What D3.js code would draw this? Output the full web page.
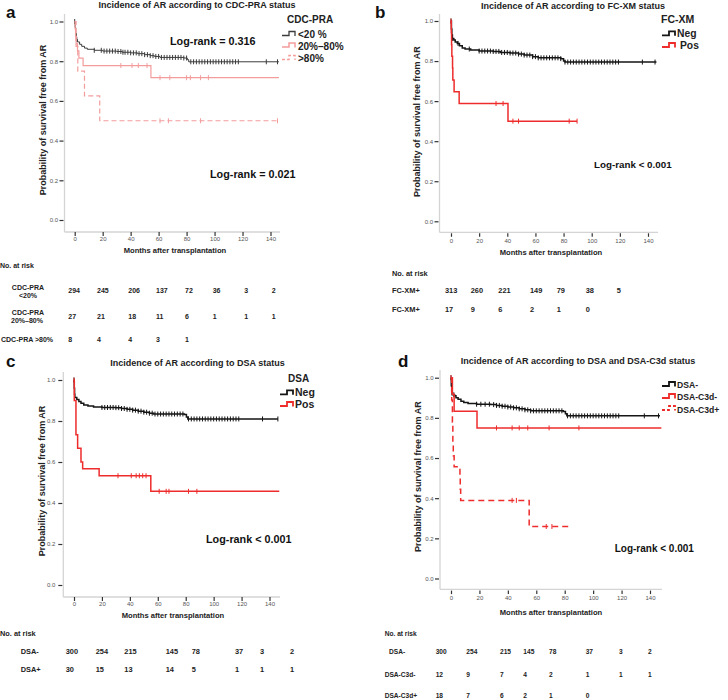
<!DOCTYPE html>
<html><head><meta charset="utf-8">
<script src="https://cdn.jsdelivr.net/npm/d3@7"></script>
<style>body{margin:0;background:#fff}svg{display:block;font-family:"Liberation Sans",Arial,Helvetica,sans-serif}</style>
</head><body><svg id="chart" width="728" height="700"></svg>
<script>
// ---------------- DATA ----------------
const monthTicks = [0, 20, 40, 60, 80, 100, 120, 140];
const probTicks = [0, 0.2, 0.4, 0.6, 0.8, 1.0];

// Panel a: CDC-PRA
const aLt20Steps = [[0,1],[0.3,0.97],[0.7,0.94],[1.2,0.91],[2,0.897],[3.5,0.885],[5,0.875],[7,0.866],[9,0.86],[14,0.855],[20,0.851],[30,0.849],[34,0.845],[40,0.842],[45,0.838],[50,0.833],[54,0.828],[57,0.824],[61,0.819],[78,0.816],[80.5,0.808],[81.5,0.797],[146,0.797]];
const aLt20Censor = [0,1.5,14,19,21,23,25,27,29,31,33,34.5,36,38,40,42,44,46,48,50,52,54,56,58,60,62,64,66,68,70,72,74,76,78,80,83,85,87,89,91,93,95,97,99,101,103,105,107,109,111,113,115,117,137,145];
const aMidSteps = [[0,1],[0.3,0.963],[0.6,0.926],[1,0.889],[2,0.852],[3,0.815],[6,0.778],[54.5,0.717],[146,0.717]];
const aMidCensor = [33,41,45.5,51.7,61,68,80,82.7,90,95.6];
const aHighSteps = [[0,1],[1,0.875],[2.2,0.75],[7,0.625],[17.9,0.5],[146,0.5]];
const aHighCensor = [61,67,90,145];
const aLegendLabels = ["<20 %", "20%\u201380%", ">80%"];
const aRiskLabels = [["CDC-PRA","<20%"],["CDC-PRA","20%\u201380%"],["CDC-PRA >80%"]];
const aRiskLt20 = [294,245,206,137,72,36,3,2];
const aRiskMid = [27,21,18,11,6,1,1,1];
const aRiskHigh = [8,4,4,3,1];

// Panel b: FC-XM
const bNegSteps = [[0,1],[0.3,0.96],[0.6,0.93],[1,0.913],[2,0.905],[3,0.895],[4.5,0.888],[6,0.877],[8,0.865],[10,0.86],[14,0.855],[20,0.85],[30,0.848],[35,0.843],[42,0.84],[48,0.835],[52,0.83],[58,0.822],[62,0.816],[78,0.812],[80,0.8],[81,0.795],[146,0.795]];
const bNegCensor = [0,1,5,13,20,22,24,26,28,30,32,34,36,38,40,42,44,46,48,50,52,54,56,58,60,62,64,66,68,70,72,74,76,78,81,83,85,87,89,91,93,95,97,99,101,103,105,107,109,111,113,115,117,119,136,145];
const bPosSteps = [[0,1],[0.2,0.941],[0.4,0.882],[0.6,0.824],[1.1,0.765],[1.3,0.706],[2.2,0.647],[5.8,0.588],[40.5,0.5],[89.6,0.5]];
const bPosCensor = [0,32,37,44,48,84,89.6];
const bLegendLabels = ["Neg", "Pos"];
const bRiskLabels = ["FC-XM+", "FC-XM+"];
const bRiskNeg = [313,260,221,149,79,38,5];
const bRiskPos = [17,9,6,2,1,0];

// Panel c: DSA
const cNegSteps = [[0,1],[0.2,0.96],[0.4,0.93],[0.6,0.915],[2,0.905],[3.5,0.895],[5,0.887],[7,0.878],[10,0.873],[14,0.868],[20,0.866],[30,0.865],[34,0.861],[38,0.857],[42,0.853],[46,0.848],[50,0.843],[54,0.838],[57,0.834],[79,0.832],[80.5,0.82],[81.5,0.81],[146,0.81]];
const cNegCensor = [0,20,22,24,26,28,30,32,34,36,38,40,42,44,46,48,50,52,54,56,58,60,62,64,66,68,70,72,74,76,78,82,84,86,88,90,92,94,96,98,100,102,104,106,108,110,112,114,116,118,135,146];
const cPosSteps = [[0,1],[0.2,0.9],[1.4,0.733],[2.6,0.667],[5,0.6],[6.2,0.567],[18,0.533],[55,0.457],[147,0.457]];
const cPosCensor = [0,31.5,41,44.5,46.8,49.2,51.6,61,66,68,82,88];
const cLegendLabels = ["Neg", "Pos"];
const cRiskLabels = ["DSA-", "DSA+"];
const cRiskNeg = [300,254,215,145,78,37,3,2];
const cRiskPos = [30,15,13,14,5,1,1,1];

// Panel d: DSA and DSA-C3d
const dNegSteps = [[0,1],[0.2,0.96],[0.5,0.93],[0.8,0.915],[2.5,0.91],[3.5,0.9],[5,0.893],[7,0.883],[9,0.876],[12,0.872],[18,0.868],[28,0.866],[32,0.862],[36,0.858],[40,0.854],[44,0.85],[48,0.845],[52,0.84],[56,0.835],[79,0.832],[80.5,0.82],[81.5,0.81],[147,0.81]];
const dNegCensor = [0,2,18,21,24,27,30,32,34,36,38,40,42,44,46,48,50,52,54,56,58,60,62,64,66,68,70,72,74,76,78,82,84,86,88,90,92,94,96,98,100,102,104,106,108,110,112,114,116,118,136,146];
const dC3dNegSteps = [[0,1],[1,0.917],[2.2,0.833],[18.3,0.75],[148,0.75]];
const dC3dNegCensor = [32,43,48,54,69,90];
const dC3dPosSteps = [[0,1],[0.5,0.889],[1,0.778],[1.3,0.667],[1.6,0.611],[2.2,0.556],[6.3,0.5],[6.5,0.444],[6.8,0.389],[55,0.259],[85,0.259]];
const dC3dPosCensor = [0,43,46,67,71];
const dLegendLabels = ["DSA-", "DSA-C3d-", "DSA-C3d+"];
const dRiskLabels = ["DSA-", "DSA-C3d-", "DSA-C3d+"];
const dRiskNeg = [300,254,215,145,78,37,3,2];
const dRiskC3dNeg = [12,9,7,4,2,1,1,1];
const dRiskC3dPos = [18,7,6,2,1,0];

const titles = ["Incidence of AR according to CDC-PRA status","Incidence of AR according to FC-XM status","Incidence of AR according to DSA status","Incidence of AR according to DSA and DSA-C3d status"];
const logRankTexts = {a:["Log-rank = 0.316","Log-rank = 0.021"], b:["Log-rank < 0.001"], c:["Log-rank < 0.001"], d:["Log-rank < 0.001"]};
const yTitle = "Probability of survival free from AR";
const xTitle = "Months after transplantation";

// ---------------- STYLE / LAYOUT ----------------
const BLACK = "#151515", RED = "#ee2c2c", PINK = "#f39c9c";
const svg = d3.select("#chart");

function survAt(steps, t) {
  let s = steps[0][1];
  for (const d of steps) { if (d[0] <= t) s = d[1]; else break; }
  return s;
}

function drawPanel(p) {
  const g = svg.append("g");
  const x = d3.scaleLinear().domain([0, 140]).range([p.x0, p.x140]);
  const y = d3.scaleLinear().domain([0, 1]).range([p.yBottom, p.yTop]);

  // panel letter & title
  g.append("text").attr("x", p.labelX).attr("y", p.labelY).attr("font-size", 17).attr("font-weight", "bold").attr("fill", "#111").text(p.letter);
  g.append("text").attr("x", p.titleX).attr("y", p.titleY).attr("text-anchor", "middle").attr("font-size", 9).attr("font-weight", "bold").attr("fill", "#222").text(p.title);

  // axis lines
  g.append("line").attr("x1", p.yAxisX).attr("x2", p.yAxisX).attr("y1", p.axisTop).attr("y2", p.axisY).attr("stroke", "#d4d4d4").attr("stroke-width", 1.3);
  g.append("line").attr("x1", p.yAxisX).attr("x2", p.axisRight).attr("y1", p.axisY).attr("y2", p.axisY).attr("stroke", "#d4d4d4").attr("stroke-width", 1.3);

  const ya = g.append("g").attr("transform", `translate(${p.yAxisX - 1},0)`)
    .call(d3.axisLeft(y).tickValues(probTicks).tickFormat(d3.format(".1f")).tickSize(p.yTickSize).tickPadding(p.yTickPad));
  ya.select(".domain").remove();
  ya.selectAll(".tick line").attr("stroke", "#333").attr("stroke-width", 1.2);
  ya.selectAll(".tick text").attr("font-size", 6).attr("fill", "#555").attr("font-family", "Liberation Sans, Arial, sans-serif");

  const xa = g.append("g").attr("transform", `translate(0,${p.axisY + p.xTickOffset})`)
    .call(d3.axisBottom(x).tickValues(monthTicks).tickSize(p.xTickSize).tickPadding(p.xTickPad));
  xa.select(".domain").remove();
  xa.selectAll(".tick line").attr("stroke", "#333").attr("stroke-width", 1.2);
  xa.selectAll(".tick text").attr("font-size", 6).attr("fill", "#555").attr("font-family", "Liberation Sans, Arial, sans-serif");

  // axis titles
  g.append("text").attr("transform", `translate(${p.yTitleX},${p.yTitleY}) rotate(-90)`).attr("text-anchor", "middle")
    .attr("dominant-baseline", "central").attr("font-size", 9).attr("font-weight", "bold").attr("fill", "#222").text(yTitle);
  g.append("text").attr("x", p.xTitleX).attr("y", p.xTitleY).attr("text-anchor", "middle").attr("dominant-baseline", "central")
    .attr("font-size", 7.6).attr("font-weight", "bold").attr("fill", "#222").text(xTitle);

  // curves
  const line = d3.line().x(d => x(d[0])).y(d => y(d[1])).curve(d3.curveStepAfter);
  p.series.forEach(s => {
    g.append("path").attr("d", line(s.steps)).attr("fill", "none").attr("stroke", s.color)
      .attr("stroke-width", s.width).attr("stroke-dasharray", s.dash || null);
    g.append("g").selectAll("line").data(s.censor).join("line")
      .attr("x1", t => x(t)).attr("x2", t => x(t))
      .attr("y1", t => y(survAt(s.steps, t)) - 2.5).attr("y2", t => y(survAt(s.steps, t)) + 2.5)
      .attr("stroke", s.color).attr("stroke-width", 1);
  });

  // legend
  const L = p.legend;
  if (L.title) g.append("text").attr("x", L.titleX).attr("y", L.titleY).attr("font-size", L.titleSize).attr("font-weight", "bold").attr("fill", "#222").text(L.title);
  L.items.forEach((it, i) => {
    const s = p.series[i];
    const sx = L.symX, sy = it.symY;
    g.append("path").attr("d", `M${sx},${sy + 2}H${sx + 7}V${sy - 2}H${sx + 13}V${sy + 2.5}`)
      .attr("fill", "none").attr("stroke", s.color).attr("stroke-width", s.width + 0.3).attr("stroke-dasharray", s.dash ? "3,2" : null);
    g.append("text").attr("x", it.textX).attr("y", it.textY).attr("font-size", L.size).attr("font-weight", "bold").attr("fill", "#222").text(it.label);
  });

  // log-rank
  p.logRank.forEach(lr => {
    g.append("text").attr("x", lr.x).attr("y", lr.y).attr("font-size", lr.size).attr("font-weight", "bold").attr("fill", "#111").text(lr.text);
  });

  // risk table
  const R = p.risk;
  const rt = g.append("g").attr("font-size", R.size).attr("font-weight", "bold").attr("fill", "#222");
  rt.append("text").attr("x", R.headerX).attr("y", R.headerY).attr("dominant-baseline", "central").text("No. at risk");
  R.rows.forEach(r => {
    r.labels.forEach(lb => {
      rt.append("text").attr("x", lb.x).attr("y", lb.y).attr("text-anchor", lb.anchor).attr("dominant-baseline", "central").text(lb.text);
    });
    rt.append("g").selectAll("text").data(r.values).join("text")
      .attr("x", (v, i) => R.cols[i]).attr("y", r.y).attr("dominant-baseline", "central").text(v => v);
  });
}

const panels = [
  { letter: "a", labelX: 6, labelY: 18, title: titles[0], titleX: 197, titleY: 8,
    yAxisX: 64.5, x0: 74.7, x140: 270.5, yBottom: 220, yTop: 21.5, axisY: 232, axisRight: 280, axisTop: 14,
    yTickSize: 4, yTickPad: 1.5, xTickOffset: 0, xTickSize: 4, xTickPad: 1,
    yTitleX: 43.3, yTitleY: 120, xTitleX: 175, xTitleY: 250,
    series: [
      { steps: aLt20Steps, censor: aLt20Censor, color: "#3c3c3c", width: 1 },
      { steps: aMidSteps, censor: aMidCensor, color: PINK, width: 1.2 },
      { steps: aHighSteps, censor: aHighCensor, color: PINK, width: 1.2, dash: "5,3" }
    ],
    legend: { title: "CDC-PRA", titleX: 287, titleY: 23.3, titleSize: 10, size: 10, symX: 282,
      items: [ { label: aLegendLabels[0], symY: 33.5, textX: 298, textY: 38 },
               { label: aLegendLabels[1], symY: 45, textX: 298, textY: 50 },
               { label: aLegendLabels[2], symY: 57.5, textX: 298, textY: 62 } ] },
    logRank: [ { text: logRankTexts.a[0], x: 170, y: 45, size: 10.8 }, { text: logRankTexts.a[1], x: 210, y: 178, size: 10.8 } ],
    risk: { size: 7, headerX: 0, headerY: 265, cols: [68.3, 97, 128.3, 156, 185, 212.7, 244.3, 271.7],
      rows: [
        { y: 290.5, values: aRiskLt20, labels: [ { text: aRiskLabels[0][0], x: 28, y: 287, anchor: "middle" }, { text: aRiskLabels[0][1], x: 28, y: 295.5, anchor: "middle" } ] },
        { y: 316, values: aRiskMid, labels: [ { text: aRiskLabels[1][0], x: 28, y: 312, anchor: "middle" }, { text: aRiskLabels[1][1], x: 27, y: 320.5, anchor: "middle" } ] },
        { y: 339, values: aRiskHigh, labels: [ { text: aRiskLabels[2][0], x: 1, y: 339, anchor: "start" } ] }
      ] } },
  { letter: "b", labelX: 375, labelY: 18, title: titles[1], titleX: 573, titleY: 8.5,
    yAxisX: 439.5, x0: 451, x140: 648, yBottom: 221.3, yTop: 21, axisY: 232.3, axisRight: 658, axisTop: 14,
    yTickSize: 4, yTickPad: 1.5, xTickOffset: 1, xTickSize: 3.5, xTickPad: 1.5,
    yTitleX: 417.3, yTitleY: 121.7, xTitleX: 551, xTitleY: 252,
    series: [
      { steps: bNegSteps, censor: bNegCensor, color: BLACK, width: 1.5 },
      { steps: bPosSteps, censor: bPosCensor, color: RED, width: 1.5 }
    ],
    legend: { title: "FC-XM", titleX: 661, titleY: 23.3, titleSize: 10.5, size: 10.3, symX: 662,
      items: [ { label: bLegendLabels[0], symY: 33.3, textX: 677, textY: 37 },
               { label: bLegendLabels[1], symY: 45, textX: 680, textY: 49 } ] },
    logRank: [ { text: logRankTexts.b[0], x: 594, y: 168, size: 9.8 } ],
    risk: { size: 7.4, headerX: 392, headerY: 273.3, cols: [445, 470.7, 498.3, 530, 556.7, 585.7, 616.7],
      rows: [
        { y: 290.7, values: bRiskNeg, labels: [ { text: bRiskLabels[0], x: 392, y: 290.7, anchor: "start" } ] },
        { y: 309.3, values: bRiskPos, labels: [ { text: bRiskLabels[1], x: 392, y: 309.3, anchor: "start" } ] }
      ] } },
  { letter: "c", labelX: 6, labelY: 367, title: titles[2], titleX: 197.5, titleY: 366,
    yAxisX: 63.3, x0: 74, x140: 269.5, yBottom: 585, yTop: 380, axisY: 597, axisRight: 280, axisTop: 372,
    yTickSize: 4, yTickPad: 3, xTickOffset: 0, xTickSize: 4, xTickPad: 0.5,
    yTitleX: 41.7, yTitleY: 481, xTitleX: 173, xTitleY: 615,
    series: [
      { steps: cNegSteps, censor: cNegCensor, color: BLACK, width: 1.5 },
      { steps: cPosSteps, censor: cPosCensor, color: RED, width: 1.5 }
    ],
    legend: { title: "DSA", titleX: 288, titleY: 381.7, titleSize: 10, size: 10.5, symX: 280,
      items: [ { label: cLegendLabels[0], symY: 392.3, textX: 295, textY: 396 },
               { label: cLegendLabels[1], symY: 404, textX: 295, textY: 408 } ] },
    logRank: [ { text: logRankTexts.c[0], x: 206, y: 543, size: 10.8 } ],
    risk: { size: 7.4, headerX: 0, headerY: 633.3, cols: [65.7, 95.7, 124.3, 165.7, 191.7, 235, 260, 290],
      rows: [
        { y: 651.7, values: cRiskNeg, labels: [ { text: cRiskLabels[0], x: 20.7, y: 651.7, anchor: "start" } ] },
        { y: 669.3, values: cRiskPos, labels: [ { text: cRiskLabels[1], x: 20.7, y: 669.3, anchor: "start" } ] }
      ] } },
  { letter: "d", labelX: 398, labelY: 367, title: titles[3], titleX: 578, titleY: 364,
    yAxisX: 440, x0: 451, x140: 650, yBottom: 578.5, yTop: 377.7, axisY: 589.3, axisRight: 662, axisTop: 370,
    yTickSize: 4, yTickPad: 1.5, xTickOffset: 1.3, xTickSize: 3.5, xTickPad: 2,
    yTitleX: 417.5, yTitleY: 476.7, xTitleX: 551, xTitleY: 612,
    series: [
      { steps: dNegSteps, censor: dNegCensor, color: BLACK, width: 1.5 },
      { steps: dC3dNegSteps, censor: dC3dNegCensor, color: RED, width: 1.5 },
      { steps: dC3dPosSteps, censor: dC3dPosCensor, color: RED, width: 1.5, dash: "6,4" }
    ],
    legend: { title: null, size: 8.6, symX: 662,
      items: [ { label: dLegendLabels[0], symY: 384, textX: 677, textY: 387.7 },
               { label: dLegendLabels[1], symY: 396, textX: 677, textY: 400 },
               { label: dLegendLabels[2], symY: 408, textX: 677, textY: 412.7 } ] },
    logRank: [ { text: logRankTexts.d[0], x: 614.7, y: 551.7, size: 10 } ],
    risk: { size: 6.6, headerX: 384.7, headerY: 633.3, cols: [435.7, 466.3, 500, 523.3, 549, 585.7, 619, 648],
      rows: [
        { y: 651.7, values: dRiskNeg, labels: [ { text: dRiskLabels[0], x: 389, y: 651.7, anchor: "start" } ] },
        { y: 674.3, values: dRiskC3dNeg, labels: [ { text: dRiskLabels[1], x: 384.7, y: 674.3, anchor: "start" } ] },
        { y: 695, values: dRiskC3dPos, labels: [ { text: dRiskLabels[2], x: 384.7, y: 695, anchor: "start" } ] }
      ] } }
];

panels.forEach(drawPanel);
</script></body></html>
